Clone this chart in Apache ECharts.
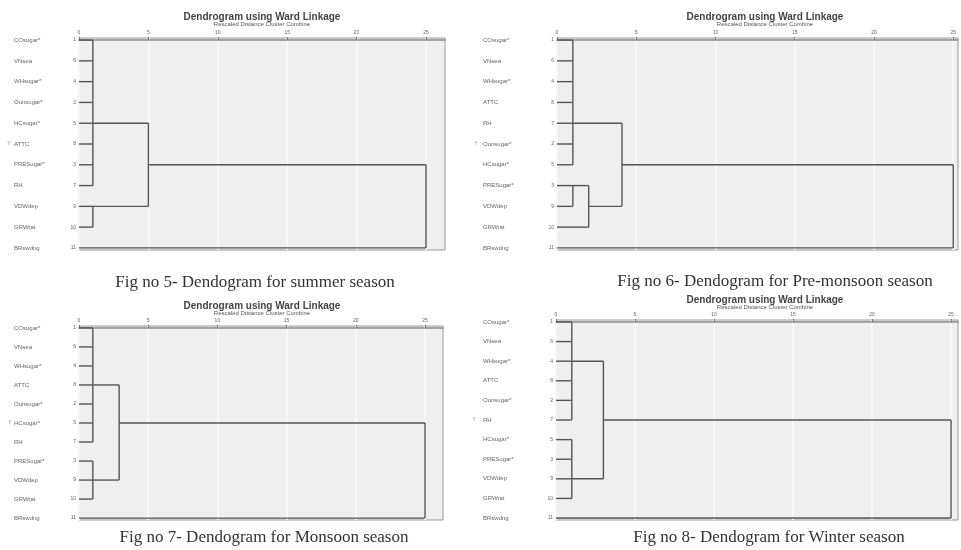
<!DOCTYPE html>
<html>
<head>
<meta charset="utf-8">
<script src="https://cdn.jsdelivr.net/npm/echarts@6/dist/echarts.min.js"></script>
<style>html,body{margin:0;padding:0;background:#fff;}#c{width:961px;height:550px;}</style>
</head>
<body>
<div id="c"></div>
<script>
// ---- data ----
const xTicks = [0, 5, 10, 15, 20, 25];

const summerNames = ['COsugar*','VNsea','WHsugar*','Ounsugar*','HCsugar*','ATTC','PRESugar*','RH','VDWdep','GRWrat','BRswdng'];
const summerCases = ['1','6','4','2','5','8','3','7','9','10','11'];
// merge: [distance, output row, children...]  (number = leaf row, 'mK' = merge K)
const summerMerges = [
  [1.0, 4, 0,1,2,3,4,5,6,7],
  [1.0, 8, 8,9],
  [5.0, 6, 'm0','m1'],
  [25.0, null, 'm2', 10]
];

const premonNames = ['COsugar*','VNsea','WHsugar*','ATTC','RH','Ounsugar*','HCsugar*','PRESugar*','VDWdep','GRWrat','BRswdng'];
const premonCases = ['1','6','4','8','7','2','5','3','9','10','11'];
const premonMerges = [
  [1.0, 4, 0,1,2,3,4,5,6],
  [1.0, 7, 7,8],
  [2.0, 8, 'm1', 9],
  [4.1, 6, 'm0','m2'],
  [25.0, null, 'm3', 10]
];

const monsoonNames = ['COsugar*','VNsea','WHsugar*','ATTC','Ounsugar*','HCsugar*','RH','PRESugar*','VDWdep','GRWrat','BRswdng'];
const monsoonCases = ['1','6','4','8','2','5','7','3','9','10','11'];
const monsoonMerges = [
  [1.0, 3, 0,1,2,3,4,5,6],
  [1.0, 8, 7,8,9],
  [2.9, 5, 'm0','m1'],
  [25.0, null, 'm2', 10]
];

const winterNames = ['COsugar*','VNsea','WHsugar*','ATTC','Ounsugar*','RH','HCsugar*','PRESugar*','VDWdep','GRWrat','BRswdng'];
const winterCases = ['1','6','4','8','2','7','5','3','9','10','11'];
const winterMerges = [
  [1.0, 2, 0,1,2,3,4,5],
  [1.0, 8, 6,7,8,9],
  [3.0, 5, 'm0','m1'],
  [25.0, null, 'm2', 10]
];

const captions = [
  'Fig no 5- Dendogram for summer season',
  'Fig no 6- Dendogram for Pre-monsoon season',
  'Fig no 7- Dendogram for Monsoon season',
  'Fig no 8- Dendogram for Winter season'
];
const chartTitle = 'Dendrogram using Ward Linkage';
const chartSub = 'Rescaled Distance Cluster Combine';

// ---- layout ----
const panels = [
  {names: summerNames, cases: summerCases, merges: summerMerges, left: 79, width: 366, top: 38, height: 212, xmax: 26.37, nameX: 14, titleX: 262, titleY: 17, capX: 255, capY: 283, yMark: [9, 144]},
  {names: premonNames, cases: premonCases, merges: premonMerges, left: 557, width: 401, top: 38, height: 212, xmax: 25.3, nameX: 483, titleX: 765, titleY: 17, capX: 775, capY: 282, yMark: [476, 144]},
  {names: monsoonNames, cases: monsoonCases, merges: monsoonMerges, left: 79, width: 364, top: 326, height: 194, xmax: 26.3, nameX: 14, titleX: 262, titleY: 306, capX: 264, capY: 538, yMark: [10, 423]},
  {names: winterNames, cases: winterCases, merges: winterMerges, left: 556, width: 402, top: 320, height: 200, xmax: 25.44, nameX: 483, titleX: 765, titleY: 300, capX: 769, capY: 538, yMark: [474, 420]}
];

function buildSegments(merges) {
  const segs = [];
  const out = [];
  const posOf = (c) => typeof c === 'number' ? {x: 0, y: c} : out[parseInt(c.slice(1), 10)];
  merges.forEach((m) => {
    const h = m[0], row = m[1];
    const kids = m.slice(2).map(posOf);
    kids.forEach(k => segs.push([k.x, k.y, h, k.y]));
    const ys = kids.map(k => k.y);
    segs.push([h, Math.min.apply(null, ys), h, Math.max.apply(null, ys)]);
    out.push({x: h, y: row});
  });
  return segs;
}

const rows = [0,1,2,3,4,5,6,7,8,9,10];
const grid = [], xAxis = [], yAxis = [], series = [], graphic = [];
const sans = 'Liberation Sans, Arial, sans-serif';

panels.forEach((p, i) => {
  grid.push({left: p.left, top: p.top, width: p.width, height: p.height, show: true,
    backgroundColor: '#efefef', borderColor: '#9a9a9a', borderWidth: 1, containLabel: false,
    outerBoundsMode: 'none'});
  xAxis.push({type: 'value', gridIndex: i, position: 'top', min: 0, max: p.xmax, interval: 5,
    axisLine: {show: true, lineStyle: {color: '#8a8a8a', width: 1.5}},
    axisTick: {show: true, length: 3, inside: false, customValues: xTicks, lineStyle: {color: '#777'}},
    axisLabel: {customValues: xTicks, fontSize: 5, color: '#666', margin: 3, fontFamily: sans},
    splitLine: {show: true, lineStyle: {color: '#f7f7f7', width: 2}}
  });
  const yBase = {type: 'value', gridIndex: i, position: 'left', inverse: true, min: -0.1, max: 10.1,
    axisLine: {show: false}, axisTick: {show: false}, splitLine: {show: false}};
  yAxis.push(Object.assign({}, yBase, {
    axisLabel: {customValues: rows, fontSize: 5, color: '#666', margin: 3, fontFamily: sans,
      formatter: v => p.cases[Math.round(v)]}
  }));
  yAxis.push(Object.assign({}, yBase, {
    axisLabel: {customValues: rows, fontSize: 6, color: '#666', margin: p.left - p.nameX, align: 'left', fontFamily: sans,
      formatter: v => p.names[Math.round(v)]}
  }));
  series.push({
    type: 'custom', xAxisIndex: i, yAxisIndex: 2 * i,
    data: buildSegments(p.merges),
    encode: {x: [0, 2], y: [1, 3]},
    silent: true,
    renderItem: (params, api) => {
      const a = api.coord([api.value(0), api.value(1)]);
      const b = api.coord([api.value(2), api.value(3)]);
      return {type: 'line', shape: {x1: a[0], y1: a[1], x2: b[0], y2: b[1]},
        style: {stroke: '#555', lineWidth: 1.4}};
    }
  });
  graphic.push({type: 'text', x: p.titleX, y: p.titleY,
    style: {text: chartTitle, font: 'bold 10px ' + sans, fill: '#444', align: 'center', verticalAlign: 'middle'}});
  graphic.push({type: 'text', x: p.titleX, y: p.titleY + 7,
    style: {text: chartSub, font: '6px ' + sans, fill: '#555', align: 'center', verticalAlign: 'middle'}});
  graphic.push({type: 'text', x: p.capX, y: p.capY,
    style: {text: captions[i], font: '17px Liberation Serif, Times New Roman, serif', fill: '#333', align: 'center', verticalAlign: 'middle'}});
  graphic.push({type: 'text', x: p.yMark[0], y: p.yMark[1],
    style: {text: 'Y', font: '5px ' + sans, fill: '#888', align: 'center', verticalAlign: 'middle'}});
});

const chart = echarts.init(document.getElementById('c'), null, {renderer: 'canvas'});
chart.setOption({animation: false, backgroundColor: '#fff', grid, xAxis, yAxis, series, graphic});
</script>
</body>
</html>
